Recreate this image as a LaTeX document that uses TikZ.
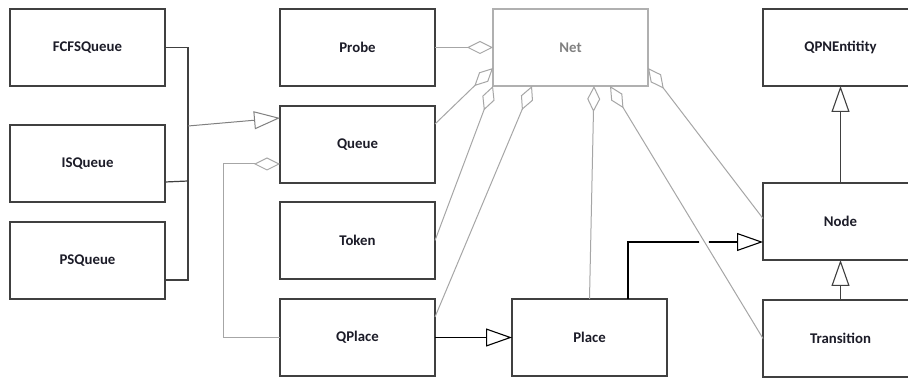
\documentclass[tikz,border=0pt]{standalone}
\usepackage{fontspec}
\setmainfont{Carlito}
\usetikzlibrary{positioning,arrows.meta,calc}

\definecolor{boxgray}{HTML}{404040}
\definecolor{linegray}{HTML}{A6A6A6}
\definecolor{netgray}{HTML}{B0B0B0}
\definecolor{textdark}{HTML}{1C1C28}

\tikzset{
  box/.style={draw=boxgray, line width=1.3pt, fill=white, minimum width=155pt,
    minimum height=77pt, inner sep=0pt, outer sep=0pt, text=textdark,
    font=\fontsize{14.8}{17}\selectfont\bfseries},
  netbox/.style={box, draw=netgray, text=gray},
  inherit/.style={draw=black, line width=1.1pt,
    -{Triangle[open, length=26pt, width=18pt]}},
  agg/.style={draw=linegray, line width=1pt,
    -{Diamond[open, length=26pt, width=13pt]}},
}

\begin{document}
\begin{tikzpicture}[x=1pt, y=-1pt, node distance=20pt]

    \clip (0,0) rectangle (908,379);
    \fill[white] (0,0) rectangle (908,379);

    % Nodes
    \node[box] (fcfs) at (87.5,47.5) {FCFSQueue};
    \node[box, below=39pt of fcfs] (isq) {ISQueue};
    \node[box, below=of isq] (psq) {PSQueue};
    \node[box, right=115pt of fcfs] (probe) {Probe};
    \node[netbox, right=58pt of probe] (net) {Net};
    \node[box, right=115pt of net] (qpn) {QPNEntitity};
    \node[box, below=of probe] (queue) {Queue};
    \node[box, below=19pt of queue] (token) {Token};
    \node[box, below=of token] (qplace) {QPlace};
    \node[box, right=77pt of qplace] (place) {Place};
    \node[box, below=97pt of qpn] (qnode) {Node};
    \node[box, below=40pt of qnode] (transition) {Transition};

    % Queue subclasses
    \coordinate (bus) at (188,126);
    \draw[boxgray, line width=1.2pt] (fcfs.east) -| ($(psq.east)+(23,19.5)$) -- ([yshift=-19.5pt]psq.east);
    \draw[boxgray, line width=1.2pt] ([yshift=-18.5pt]isq.east) -- +(23,-1);
    \draw[inherit, draw=gray, line width=1pt] (bus) -- ([yshift=26.5pt]queue.west);

    % Generalisations
    \draw[inherit] (qplace.east) -- (place.west);
    \draw[inherit] ([xshift=38.5pt]place.north) |- ([yshift=-20.5pt]qnode.west);
    \draw[inherit, draw=boxgray] (qnode.north) -- (qpn.south);
    \draw[inherit, draw=boxgray] (transition.north) -- (qnode.south);

    % Line jump
    \coordinate (jump) at (704,242);
    \fill[white] (jump) circle (5pt);

    % Aggregations
    \draw[agg] (qplace.west) -- ++(-57,0) |- ([yshift=-19.5pt]queue.west);
    \draw[agg] (probe.east) -- (net.west);
    \draw[agg] ([yshift=20.5pt]queue.east) -- ([yshift=-20.5pt]net.west);
    \draw[agg] (token.east) -- (net.south west);
    \draw[agg] ([yshift=-18pt]qplace.north east) -- ([xshift=39pt]net.south west);
    \draw[agg] (place.north) -- ([xshift=23.5pt]net.south);
    \draw[agg] (transition.west) -- ([xshift=-38pt]net.south east);
    \draw[agg] ([yshift=3pt]qnode.west) -- ([yshift=-20.5pt]net.east);

\end{tikzpicture}
\end{document}
